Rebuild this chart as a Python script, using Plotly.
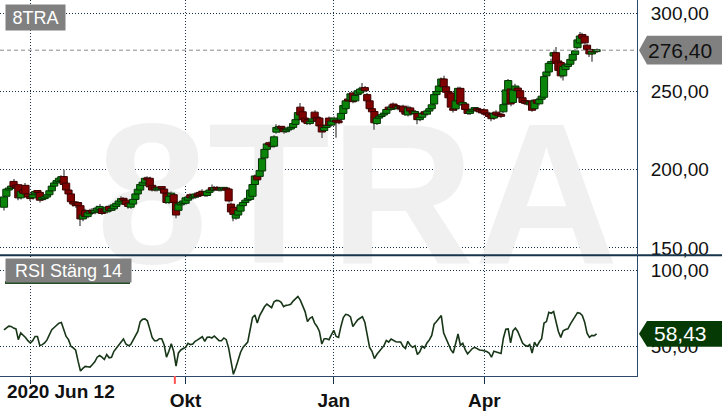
import numpy as np
import plotly.graph_objects as go
from plotly.subplots import make_subplots

ticker = "8TRA"
rsi_name = "RSI Stäng 14"

open_ = [
    176, 183, 187, 188, 192.5, 190, 190.4, 182, 187, 190,
    184.5, 182, 182, 184.5, 186, 185.5, 181, 181.5, 182.5, 184,
    186.5, 189.5, 191.5, 192.5, 193, 195.6, 191.4, 187, 184.5, 179.5,
    178.5, 179, 177, 168.5, 174, 170, 172, 174, 172.5, 173.5,
    174.5, 175, 174, 173, 176.5, 174, 175, 176.5, 178, 179.5,
    181.5, 180.5, 178.8, 176, 178, 181, 184.5, 187, 190, 191.5,
    194.5, 194.5, 190, 188.9, 187, 187.5, 188.5, 187.6, 185, 179,
    183, 184, 179.2, 174, 177.5, 178.5, 178.5, 180.5, 184, 182,
    182.5, 184.5, 185.5, 186.2, 185, 183.5, 185.5, 188.5, 187, 188.5,
    187.5, 187, 187.5, 188, 187.6, 178, 176, 169, 171, 173.5,
    177, 179, 180.5, 181, 183, 190.5, 196, 195.7, 199.2, 207.5,
    213, 216.5, 216, 215, 224, 226, 227, 226, 224.3, 225.5,
    226, 227, 229, 232, 240, 237, 233, 232, 229.5, 231,
    236.8, 233.5, 233, 228.5, 225, 227, 233, 228.5, 231, 231,
    230.5, 232.2, 236, 239, 244.2, 244.5, 249, 244, 248, 249,
    251, 252.5, 248, 244, 239, 237.2, 229.5, 233, 234, 235,
    236, 240, 238.5, 242, 241, 239, 240, 240.6, 237, 235,
    239.5, 237.5, 236, 236, 232, 233.5, 237, 235.5, 237.5, 239,
    242, 248, 250, 253.7, 258, 253, 250, 249, 239, 238.9,
    244, 252, 241.4, 242, 238.5, 236, 237.5, 238.5, 239, 238.5,
    237, 238.3, 236, 236, 235.3, 233, 236.8, 235, 234.5, 237,
    242, 250.5, 251.6, 243, 251, 252.2, 250.5, 246, 244.2, 242.5,
    242, 244, 239, 244.6, 242.1, 245, 246.3, 260, 262.5, 268,
    272.7, 274.8, 269.5, 268.5, 260, 264, 266, 267.4, 270, 273.7,
    278, 281, 286.4, 285.3, 279.6, 276.9, 274, 275.5, 275.5,
]
high = [
    183.5, 188.5, 189, 191, 194, 191, 191, 187, 188, 191.5,
    185.5, 183, 185, 187, 187, 186.5, 182.5, 183.5, 185, 187.5,
    190.5, 192.5, 194, 196, 196.5, 200, 192.5, 188, 185.5, 181,
    179.5, 180, 178, 172, 175, 173.5, 175, 175.5, 175, 177,
    178, 176.5, 175, 177, 177.5, 176.5, 178.5, 179.5, 181, 183,
    182.5, 181.5, 179.5, 179.5, 182, 185.5, 189, 191.5, 193, 195.5,
    195.8, 195.5, 191, 190, 189, 189.5, 189.5, 188.5, 186, 184,
    186, 185, 180, 179, 180, 181, 183, 183.5, 185, 184,
    185.5, 185.5, 186.5, 187.5, 186, 187, 188, 190.5, 189.5, 189.5,
    188.5, 188.5, 189, 189, 188.5, 179, 177, 172.5, 175, 178.5,
    180, 181.5, 182, 188, 191.5, 197, 197, 200.5, 208, 214,
    217.5, 218, 217, 222, 229, 228.5, 228, 227, 226.5, 227,
    227.7, 230.5, 233, 237.5, 242.7, 238, 234, 233, 232, 233.5,
    238, 234.5, 234, 229.5, 228, 228.5, 234, 232, 234, 232,
    231.5, 237, 242, 245, 245.5, 249.5, 250, 248.5, 251.5, 253,
    255.4, 253.5, 249, 245, 240, 238, 234, 235, 236, 237,
    239.5, 241.5, 241, 243, 242, 241, 241, 241.5, 238, 241,
    240.5, 238.5, 238, 237, 234.5, 237, 238, 238.5, 240, 242.5,
    249, 251, 254.5, 259, 260, 254, 251, 250, 240, 245,
    253, 253, 244, 243, 239.5, 238.5, 239.5, 240, 240, 239.5,
    238, 239.5, 237, 237, 236.5, 237, 238, 236, 235.5, 242.5,
    252, 258, 252.5, 252, 255, 253.5, 251.5, 247, 245.5, 243.5,
    244, 245, 245, 246, 246, 248, 260.5, 263.5, 269, 271,
    276, 278.5, 270.5, 269.5, 267, 268, 268.5, 271.5, 275, 277,
    284, 288, 287.5, 286.5, 280.5, 278, 276.5, 276.5, 277.5,
]
low = [
    173.9, 182, 186, 187, 188, 187, 180.5, 181, 184, 183.5,
    181.5, 180, 181, 183.5, 184.5, 179, 180, 180.5, 181.5, 183,
    185.5, 188.5, 190.5, 191.5, 192, 189.5, 186, 183.5, 178.5, 176.5,
    175.5, 176, 164, 167, 168.5, 169, 171, 171, 171.5, 172.5,
    173.5, 171, 172, 172, 173, 173, 174, 175.5, 177, 178.5,
    179, 176.5, 175, 175, 177, 180, 183.5, 186, 189, 190.5,
    192.5, 188, 186, 186, 186, 186.5, 187, 184, 178, 178,
    182, 178, 169, 173, 176.5, 177.5, 177.5, 179.5, 181, 181,
    181.5, 182, 182.5, 183, 182.5, 182.5, 184.5, 186, 186, 186.5,
    186, 186, 186.5, 186, 179, 172, 167, 168, 170, 172.5,
    176, 178, 179.5, 180, 182, 189.5, 192.5, 195, 198.5, 206.5,
    212, 215, 214, 214, 223, 225, 225.5, 223, 223.5, 224.5,
    225, 226, 228, 231, 234, 231, 229.5, 228.5, 228.5, 230,
    232, 230, 227, 220.3, 224, 226, 227.5, 227.5, 230, 220.5,
    229, 231, 235, 238, 243, 243.5, 242.5, 243, 247, 248,
    250, 249.5, 243, 238, 236, 225.5, 228.5, 232, 233, 234,
    235, 237.5, 237.5, 238.5, 238.5, 238, 238, 236, 234.5, 234,
    236.5, 235, 235, 229, 231, 232.5, 234.5, 234.5, 236.5, 238,
    241, 247, 249, 252.5, 252, 248.5, 245, 239, 236.5, 237.5,
    243, 241, 240, 237.5, 235, 235, 236.5, 237.5, 237, 236,
    235, 235, 234, 233, 231, 232, 234, 233.5, 233, 236,
    241, 249.5, 240.5, 242, 250, 249.5, 245, 242, 241.5, 241,
    241, 237, 238, 241.5, 241, 244, 245.5, 258, 261.5, 266,
    271, 266, 262, 258.5, 257, 263, 265, 266.5, 269, 272.5,
    277, 280, 283, 280, 274.5, 272, 269, 274, 275,
]
close = [
    182.6, 187.5, 188, 189.5, 189, 188.5, 182, 186, 185, 184.5,
    182.5, 181.5, 184, 186, 185.5, 180.5, 181.5, 182.5, 184, 186.5,
    189.5, 191.5, 193, 194.5, 195.5, 190.5, 187, 184.5, 179.5, 178,
    177, 177, 168.5, 171, 170, 172.5, 173.5, 172.5, 174, 175.5,
    176.5, 172, 173, 176, 174, 175, 177.5, 178.5, 180, 181.5,
    180.5, 177.7, 176.5, 178.5, 181, 184.5, 187.5, 190.5, 192, 194.5,
    193.5, 189, 187, 187.2, 188, 188.5, 188, 185, 179, 183,
    185, 179, 171, 178, 179, 180, 182, 182.5, 182, 183,
    184.5, 183, 183.5, 184, 183.5, 186, 187, 187, 188.5, 187.5,
    187, 187.5, 188, 187, 180, 173, 171.4, 171.5, 174, 177.5,
    179, 180.5, 181, 187, 190.5, 196, 193.5, 199.5, 207, 213,
    216.5, 216, 215, 221, 227, 227.5, 226.5, 224.3, 225.5, 226,
    226.7, 229.5, 232, 236.5, 235, 232, 230.5, 229.5, 231, 232.5,
    233, 231, 228, 224.1, 227, 227.5, 228.5, 231, 233, 230.5,
    230, 236, 241, 244, 244, 248.5, 243.5, 247.5, 250.5, 251.5,
    252, 250.5, 244, 239, 237, 230, 233, 234, 235, 236,
    238.5, 238.5, 240, 239.5, 239.5, 239.7, 239, 237, 235.5, 239.5,
    237.5, 236, 237, 232, 233.5, 236, 235.5, 237.5, 239, 241.5,
    248, 250, 253.5, 258, 253, 249.5, 246, 240, 238, 244,
    252, 242, 243, 238.5, 236, 237.5, 238.5, 239, 238, 237,
    236.5, 236, 235, 234, 232.6, 236, 235, 234.5, 234.1, 241.6,
    251, 257, 242, 251, 253.5, 250.5, 246, 243, 242.5, 242,
    243, 238, 244, 242.5, 245, 247, 259.5, 262.5, 268, 268.5,
    274.8, 268, 263.5, 260, 266, 267, 267.5, 270.5, 273.7, 276,
    283, 285.5, 284, 281.1, 276.9, 274, 275.5, 275.3, 276.4,
]
rsi = [
    61.1, 62.6, 63.5, 63.3, 62.2, 61.7, 54.6, 59, 57.8, 56,
    53.9, 52.4, 53.9, 56.7, 56.7, 50.6, 51.3, 52.4, 54.4, 57.8,
    61.1, 62.6, 63.9, 65.5, 65.9, 61.7, 56.7, 54.6, 50.2, 49.1,
    47.6, 40.4, 33.9, 35.6, 36.9, 36.7, 36.5, 38.2, 40, 43,
    44.1, 43, 41.5, 44.8, 42.6, 43, 46.9, 48.9, 50.9, 53,
    55, 51.7, 50.6, 51.3, 54.1, 56.7, 60, 66.5, 68, 68.3,
    67, 61.7, 56.1, 53.9, 53.9, 55.2, 55.2, 51.3, 43, 46.9,
    51.9, 46.9, 37.1, 45.8, 47.8, 48.7, 49.5, 52.2, 51.3, 51.7,
    53.5, 54.4, 55.2, 56.5, 53.5, 56.1, 56.3, 55.7, 57, 55.2,
    53.9, 53.9, 55.7, 54.6, 49.1, 40.4, 31.7, 36, 42.1, 46.3,
    49.5, 51.3, 53, 61.1, 69.2, 70.9, 65.5, 70.5, 73.5, 76.3,
    78.1, 77, 75.7, 79.6, 80.5, 80.3, 79.2, 76.3, 77.2, 77.4,
    77.9, 80, 81.6, 83.1, 80.7, 76.3, 73.1, 66.5, 68.7, 69.6,
    65.5, 63.3, 60, 51.7, 55.2, 55.2, 54.6, 57.8, 60.7, 56.7,
    56.1, 63.3, 69.2, 71.3, 70.9, 69.6, 63.3, 65.5, 67.6, 68.7,
    69.8, 66.1, 56.7, 49.5, 46.9, 42.1, 44.8, 46.9, 48.7, 50.6,
    54.1, 53, 55, 53.9, 53.2, 53, 53, 50.2, 48.7, 53.5,
    50.9, 49.5, 50.6, 44.8, 46.5, 50.2, 49.1, 52.4, 54.4, 57.4,
    64.8, 66.5, 68.3, 70.5, 58.9, 55.2, 51.7, 48, 45.8, 51.3,
    58.3, 50.9, 52.2, 48, 45.2, 46.9, 48.7, 49.5, 48.7, 47.8,
    47.6, 47.4, 46.7, 45.8, 43, 46.9, 46.3, 45.8, 45.4, 55.7,
    61.5, 61.7, 52.4, 60.4, 62.2, 60, 56.1, 52.4, 50.9, 50.2,
    51.3, 45.8, 53, 50.2, 53, 55.2, 65.5, 66.5, 72.6, 72,
    73.1, 66.5, 60, 56.1, 60.4, 61.3, 61.7, 64.8, 67.6, 69.8,
    72.4, 72, 70.5, 66.1, 58.9, 56.1, 57.4, 57.2, 58.43,
]

# trading-day positions of the time labels
tick_days = [11, 76, 138, 201]
tick_text = ["", "Okt", "Jan", "Apr"]
first_label = "2020 Jun 12"
event_day = 71.5
price_ticks = [150, 200, 250, 300]
rsi_ticks = [50, 100]

FONT = "Liberation Sans, Arial, sans-serif"
GRID = "#16304a"
BORDER = "#2e4a68"
GREEN, GREEN_EDGE = "#0a850a", "#053305"
RED, RED_EDGE = "#800000", "#3a0000"

W, H = 722, 411
PW, PH = 637, 380  # plot area in px
main_dom = [(PH - 257) / PH, 1.0]
rsi_dom = [0.0, (PH - 259) / PH]
main_rng = [145.9, 308.5]
rsi_rng = [30.6, 109.6]
x_rng = [-1.67, 264.9]


def px_x(p):
    return p / PW


def px_y(p):
    return (PH - p) / PH


def val_y(v, rng, dom):
    return dom[0] + (v - rng[0]) / (rng[1] - rng[0]) * (dom[1] - dom[0])


def fmt(v):
    return f"{v:.2f}".replace(".", ",")


o = np.array(open_)
h = np.array(high)
lo = np.array(low)
c = np.array(close)
days = np.arange(len(c))
up = c >= o
body_base = np.minimum(o, c)
body_h = np.maximum(np.abs(c - o), 1.2)

fig = make_subplots(rows=2, cols=1, shared_xaxes=True, vertical_spacing=0.01)

# watermark sits on the base price axes; candles go on an overlaid axis above it
fig.add_trace(go.Scatter(
    x=[148], y=[172], mode="text", text=[ticker],
    textfont=dict(family=FONT, size=200, color="#f0f0f0", weight="bold"),
    textposition="middle center", cliponaxis=False,
    hoverinfo="skip", showlegend=False,
), row=1, col=1)

fig.add_trace(go.Bar(
    x=days, y=h - lo, base=lo, width=0.45, xaxis="x", yaxis="y3",
    marker=dict(color="#8c8c8c", line=dict(width=0)),
    hoverinfo="skip", showlegend=False,
))

fig.add_trace(go.Bar(
    x=days, y=body_h, base=body_base, width=3.0, xaxis="x", yaxis="y3",
    marker=dict(color=np.where(up, GREEN, RED),
                line=dict(color=np.where(up, GREEN_EDGE, RED_EDGE), width=1)),
    showlegend=False,
))

fig.add_trace(go.Scatter(
    x=days, y=rsi, mode="lines",
    line=dict(color="#173517", width=1.6),
    showlegend=False,
), row=2, col=1)

grid = dict(showgrid=True, gridcolor=GRID, griddash="1px,2px", gridwidth=1, zeroline=False)

fig.update_xaxes(range=x_rng, tickvals=tick_days, ticktext=tick_text, **grid)
fig.update_xaxes(showticklabels=False, ticks="", row=1, col=1)
fig.update_xaxes(showticklabels=True, ticks="outside", ticklen=7, tickcolor=GRID,
                 tickfont=dict(family=FONT, size=19, color="#111111", weight="bold"),
                 showline=True, linecolor=BORDER, linewidth=1, row=2, col=1)

fig.update_yaxes(side="right", showline=True, linecolor=BORDER, linewidth=1,
                 ticks="", ticklabelstandoff=9, tickformat=".2f",
                 tickfont=dict(family=FONT, size=19, color="#111111"), **grid)
fig.update_yaxes(range=main_rng, tickvals=price_ticks, domain=main_dom, row=1, col=1)
fig.update_yaxes(range=rsi_rng, tickvals=rsi_ticks, domain=rsi_dom, row=2, col=1)

last_p = close[-1]
last_r = rsi[-1]
yp = val_y(last_p, main_rng, main_dom)
yr = val_y(last_r, rsi_rng, rsi_dom)
hp = 14.5 / PH
hr = 13 / PH
tip, sh, right = px_x(639), px_x(647), px_x(W)

shapes = [
    dict(type="line", xref="paper", yref="y", x0=0, x1=1, y0=last_p, y1=last_p,
         line=dict(color="#8a8a8a", width=1, dash="4px,3px")),
    dict(type="line", xref="paper", yref="paper", x0=0, x1=right, y0=px_y(258), y1=px_y(258),
         line=dict(color="#17354d", width=2)),
    dict(type="path", xref="paper", yref="paper", fillcolor="#808080", line=dict(width=0),
         path=f"M{tip},{yp} L{sh},{yp + hp} L{right},{yp + hp} L{right},{yp - hp} L{sh},{yp - hp} Z"),
    dict(type="path", xref="paper", yref="paper", fillcolor="#053a05", line=dict(width=0),
         path=f"M{tip},{yr} L{sh},{yr + hr} L{right},{yr + hr} L{right},{yr - hr} L{sh},{yr - hr} Z"),
    dict(type="rect", xref="paper", yref="paper", x0=px_x(5), x1=px_x(130),
         y0=px_y(287), y1=px_y(284), fillcolor="#274d27", line=dict(width=0)),
    dict(type="line", xref="x2", yref="paper", x0=event_day, x1=event_day,
         y0=0, y1=px_y(388), line=dict(color="#ff5050", width=2)),
]

annotations = [
    dict(text=ticker, xref="paper", yref="paper", x=px_x(5), y=px_y(4),
         xanchor="left", yanchor="top", showarrow=False, width=59, height=25,
         bgcolor="#808080", borderpad=0, font=dict(family=FONT, size=18, color="white")),
    dict(text=rsi_name, xref="paper", yref="paper", x=px_x(5), y=px_y(261),
         xanchor="left", yanchor="top", showarrow=False, width=125, height=23,
         bgcolor="#808080", borderpad=0, font=dict(family=FONT, size=18, color="white")),
    dict(text=fmt(last_p), xref="paper", yref="paper", x=px_x(680), y=yp,
         xanchor="center", yanchor="middle", showarrow=False,
         font=dict(family=FONT, size=21, color="#111111")),
    dict(text=fmt(last_r), xref="paper", yref="paper", x=px_x(680), y=yr,
         xanchor="center", yanchor="middle", showarrow=False,
         font=dict(family=FONT, size=21, color="white")),
    dict(text=first_label, xref="paper", yref="paper", x=px_x(5), y=px_y(396),
         xanchor="left", yanchor="middle", showarrow=False,
         font=dict(family=FONT, size=19, color="#111111", weight="bold")),
]

fig.update_layout(
    width=W, height=H,
    margin=dict(l=0, r=W - PW, t=0, b=H - PH),
    paper_bgcolor="white", plot_bgcolor="rgba(0,0,0,0)",
    barmode="overlay", separators=", ",
    yaxis3=dict(overlaying="y", anchor="x", range=main_rng, visible=False,
                showgrid=False, zeroline=False),
    shapes=shapes, annotations=annotations,
    showlegend=False,
)

fig.write_html(
    "out.html",
    config={"displayModeBar": False},
    post_script="document.body.style.margin='0px';"
                "document.documentElement.style.overflow='hidden';",
)
